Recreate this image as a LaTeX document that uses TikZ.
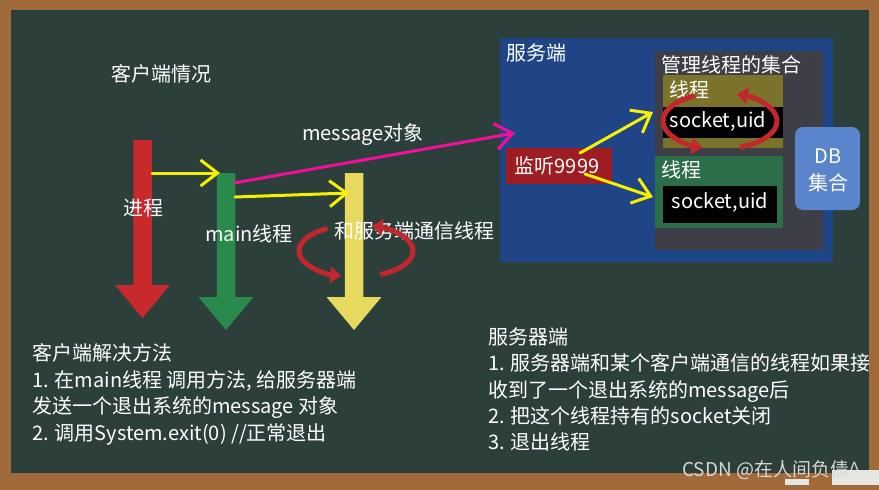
\documentclass[tikz,border=0pt]{standalone}
\usepackage{fontspec}
\setmainfont{Noto Sans CJK SC}
\usepackage{tikz}
\usetikzlibrary{arrows.meta}

\definecolor{board}{HTML}{2C3F3B}
\definecolor{wood}{HTML}{A06A3B}
\definecolor{chalk}{HTML}{E6E6E2}
\definecolor{arrred}{HTML}{C8292B}
\definecolor{arrgreen}{HTML}{2A8A4C}
\definecolor{arryellow}{HTML}{E6D95E}
\definecolor{lineyellow}{HTML}{F7F000}
\definecolor{linepink}{HTML}{F2109A}
\definecolor{rotred}{HTML}{C1272D}
\definecolor{srvblue}{HTML}{1F4586}
\definecolor{setgray}{HTML}{3D3E46}
\definecolor{throlive}{HTML}{7B7329}
\definecolor{thrgreen}{HTML}{2B6E47}
\definecolor{dbblue}{HTML}{5A84CC}
\definecolor{lsnred}{HTML}{9E1D22}

\begin{document}
\begin{tikzpicture}[x=1pt, y=-1pt,
    txt/.style={text=white, font=\fontsize{20}{26}\selectfont, inner sep=0pt},
    box/.style={inner sep=0pt, outer sep=0pt},
    yarrow/.style={draw=lineyellow, line width=3pt, line cap=round,
      -{Straight Barb[length=17pt, width=26pt]}},
    parrow/.style={draw=linepink, line width=3pt,
      -{Straight Barb[length=17pt, width=26pt]}},
    rot/.style={draw=rotred, line width=5pt, -{Triangle[length=11pt, width=16pt]}}]
  \useasboundingbox (0,0) rectangle (879,490);

  % tableau
    \fill[wood] (0,0) rectangle (879,490);
    \fill[board] (11,10) rectangle (869,473);
    \fill[chalk] (785,479) rectangle (809,485);
    \fill[chalk] (832,470) rectangle (879,485);

  % client

    \node[txt] at (161,74) (client) {客户端情况};

    \foreach \x/\top/\hd/\tip/\col in {142.5/140/285/318/arrred,
        226/173/297/330/arrgreen, 354/173/297/330/arryellow}
      \fill[\col] (\x-9.25,\top) -- (\x+9.25,\top) -- (\x+9.25,\hd) -- (\x+27.5,\hd)
        -- (\x,\tip) -- (\x-27.5,\hd) -- (\x-9.25,\hd) -- cycle;

    \node[txt] at (143,208) (proc) {进程};
    \node[txt] at (249,234) (mainthr) {main线程};
    \node[txt] at (414,231) (comthr) {和服务端通信线程};
    \node[txt] at (363,135) (msg) {message对象};

    \coordinate (procout) at (152,173);
    \coordinate (mainin) at (220,173);
    \coordinate (mainout) at (235,197);
    \coordinate (comin) at (349,193);
    \draw[yarrow] (procout) -- (mainin);
    \draw[yarrow] (mainout) -- (comin);

    \coordinate (comrot) at (356,251);
    \draw[rot] ([shift={(120:57pt and 26pt)}]comrot)
      arc[start angle=120, end angle=255, x radius=57pt, y radius=26pt];
    \draw[rot] ([shift={(295:57pt and 26pt)}]comrot)
      arc[start angle=295, end angle=434, x radius=57pt, y radius=26pt];

  % server

    \fill[srvblue] (500,38) rectangle (833,262);
    \node[txt, anchor=west] at (506,53) (srv) {服务端};
    \fill[setgray] (655,51) rectangle (823,250);
    \node[txt, anchor=west] at (661,65) (set) {管理线程的集合};

    \node[box, fill=throlive, minimum width=120pt, minimum height=73pt] at (723,111.5) (thrA) {};
    \node[txt, anchor=west] at (669,90) {线程};
    \node[box, fill=black, minimum width=120pt, minimum height=31pt] at (723,122.5) (sockA) {};
    \node[txt] at (718,121) {socket,uid};

    \coordinate (rotA) at (720,121);
    \draw[rot] ([shift={(116:57pt and 28pt)}]rotA)
      arc[start angle=116, end angle=252, x radius=57pt, y radius=28pt];
    \draw[rot] ([shift={(290:57pt and 28pt)}]rotA)
      arc[start angle=290, end angle=433, x radius=57pt, y radius=28pt];

    \node[box, fill=thrgreen, minimum width=128pt, minimum height=72pt] at (719,192) (thrB) {};
    \node[txt, anchor=west] at (661,170) {线程};
    \node[box, fill=black, minimum width=114pt, minimum height=37pt] at (720,204.5) (sockB) {};
    \node[txt] at (720,202) {socket,uid};

    \node[box, fill=dbblue, rounded corners=8pt, minimum width=65pt, minimum height=83pt]
      at (827.5,168.5) (db) {};
    \node[txt, align=center, font=\fontsize{20}{27}\selectfont] at (828,170) {DB\\集合};

    \node[box, fill=lsnred, minimum width=106pt, minimum height=36pt] at (559,166) (lsn) {};
    \node[txt] at (557,166) {监听9999};

    \coordinate (lsnA) at (580,153);
    \coordinate (lsnB) at (585,174);
    \coordinate (thrAin) at (653,112);
    \coordinate (thrBin) at (653,197);
    \draw[yarrow] (lsnA) -- (thrAin);
    \draw[yarrow] (lsnB) -- (thrBin);

    % message
    \coordinate (msgout) at (234,183);
    \coordinate (srvin) at (515,133);
    \draw[parrow] (msgout) -- (srvin);

  % texts

    \foreach \t [count=\i] in {{客户端解决方法}, {1. 在main线程 调用方法, 给服务器端},
        {发送一个退出系统的message 对象}, {2. 调用System.exit(0) //正常退出}}
      \node[txt, anchor=base west] at (32,{360.5+26.5*(\i-1)}) (cl\i) {\t};

    \foreach \t [count=\i] in {{服务器端}, {1. 服务器端和某个客户端通信的线程如果接},
        {收到了一个退出系统的message后}, {2. 把这个线程持有的socket关闭}, {3. 退出线程}}
      \node[txt, anchor=base west] at (488,{344.5+26.3*(\i-1)}) (sv\i) {\t};

    \node[inner sep=0pt, anchor=west, text=chalk!85!gray, font=\fontsize{19}{22}\selectfont]
      at (682,470) (mark) {CSDN @在人间负债\textasciicircum};
\end{tikzpicture}
\end{document}
